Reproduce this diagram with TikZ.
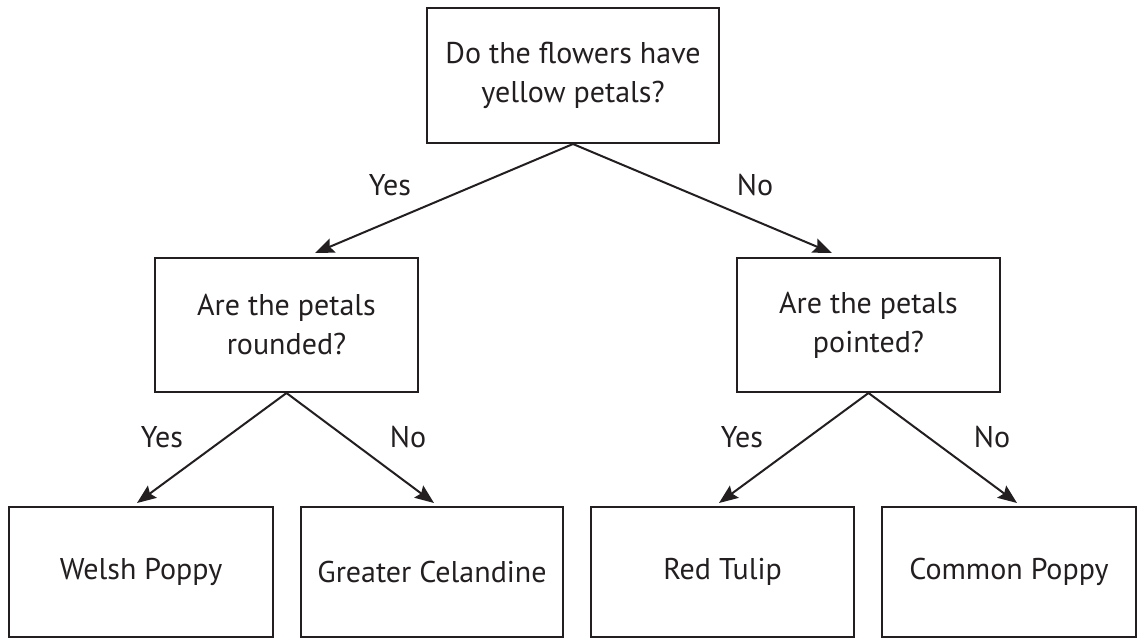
\documentclass[tikz,border=0pt]{standalone}
\usepackage{fontspec}
\setmainfont{PT Sans}
\usetikzlibrary{arrows.meta}
\definecolor{ink}{HTML}{231F20}
\begin{document}
\begin{tikzpicture}[x=1pt,y=-1pt,
  box/.style={draw=ink, line width=2pt, rectangle, inner sep=0pt, align=center, text=ink,
    font=\fontsize{30}{39}\selectfont},
  lbl/.style={text=ink, inner sep=0pt, font=\fontsize{30}{36}\selectfont},
  conn/.style={draw=ink, line width=2pt, -{Stealth[length=19pt,width=15pt,inset=3pt]}}]
\useasboundingbox (0,0) rectangle (1138,641);
\node[box, minimum width=292pt, minimum height=135pt] (top) at (573,75.5) {Do the flowers have\\yellow petals?};
\node[box, minimum width=263pt, minimum height=134pt] (ml) at (286.5,325) {Are the petals\\rounded?};
\node[box, minimum width=263pt, minimum height=134pt] (mr) at (868.5,325) {Are the petals\\pointed?};
\node[box, minimum width=264pt, minimum height=130pt] (b1) at (141,572) {Welsh Poppy};
\node[box, minimum width=262pt, minimum height=130pt] (b2) at (432,572) {Greater Celandine};
\node[box, minimum width=263pt, minimum height=130pt] (b3) at (722.5,572) {Red Tulip};
\node[box, minimum width=254pt, minimum height=130pt] (b4) at (1009,572) {Common Poppy};
\coordinate (t1) at (315,253);
\coordinate (t2) at (832,253);
\coordinate (t3) at (137,503);
\coordinate (t4) at (434,503);
\coordinate (t5) at (719,503);
\coordinate (t6) at (1017,503);
\draw[conn] (top.south) -- (t1);
\draw[conn] (top.south) -- (t2);
\draw[conn] (ml.south) -- (t3);
\draw[conn] (ml.south) -- (t4);
\draw[conn] (mr.south) -- (t5);
\draw[conn] (mr.south) -- (t6);
\node[lbl] (y1) at (390,185) {Yes};
\node[lbl] (n1) at (755,185) {No};
\node[lbl] (y2) at (162,437) {Yes};
\node[lbl] (n2) at (408,437) {No};
\node[lbl] (y3) at (742,437) {Yes};
\node[lbl] (n3) at (992,437) {No};
\end{tikzpicture}
\end{document}
